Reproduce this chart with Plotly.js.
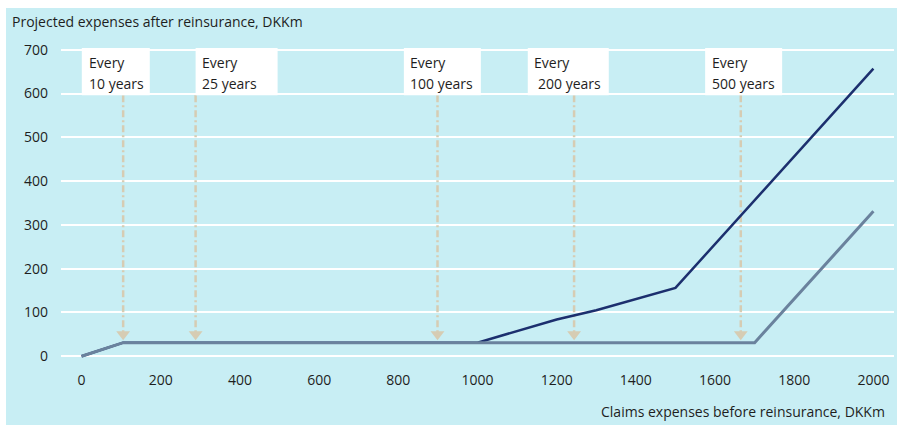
<!DOCTYPE html>
<html>
<head>
<meta charset="utf-8">
<script src="https://cdn.plot.ly/plotly-3.0.1.min.js"></script>
<style>
  html, body { margin: 0; padding: 0; background: #ffffff; }
  #chart { position: absolute; left: 6px; top: 8px; width: 891px; height: 417px; }
</style>
</head>
<body>
<div id="chart"></div>
<script>
// Claims expenses before reinsurance (DKKm) and the resulting net expenses
const claimsX      = [0, 105, 1000, 1100, 1200, 1300, 1400, 1500, 2000];
const programmeA   = [0, 31, 31, 58, 84, 105, 131, 156, 657];
const claimsXB     = [0, 105, 1700, 2000];
const programmeB   = [0, 31, 31, 331];

// Return-period events and where they fall on the claims axis
const periodFirst  = ['Every', 'Every', 'Every', 'Every', 'Every'];
const periodSecond = ['10 years', '25 years', '100 years', '200 years', '500 years'];
const eventX       = [105, 288, 899, 1244, 1665];

// Axis ticks
const xTickVals = [0, 200, 400, 600, 800, 1000, 1200, 1400, 1600, 1800, 2000];
const yTickVals = [0, 100, 200, 300, 400, 500, 600, 700];

// Label box placement (left edge on the claims axis, pixel width, text inset)
const boxLeft   = [0.5, 288, 814, 1127, 1575];
const boxWidth  = [68, 82, 77, 81, 77];
const boxPad    = [5, 4.6, 4.3, 4.7, 5];
const secondPad = [5, 4.6, 4.3, 8.7, 5];

const BG = '#c8eef4';
const NAVY = '#1c2f6e';
const GREY = '#6a829d';
const BEIGE = '#d6ccb3';
const TXT = '#1e1e1e';
const FONT = 'Open Sans, Noto Sans, sans-serif';

const ARROW_TOP = 596;
const ARROW_END = 55;
const HEAD_Y = 50;

// Dash-dot guide lines from each label box down to the retention level
const guideX = [], guideY = [];
eventX.forEach(x => { guideX.push(x, x, null); guideY.push(ARROW_TOP, ARROW_END, null); });

const traces = [
  { x: guideX, y: guideY, mode: 'lines', hoverinfo: 'skip',
    line: { color: BEIGE, width: 2.5, dash: '7px,3px,2px,3px' } },
  { x: eventX, y: eventX.map(() => HEAD_Y), mode: 'markers', hoverinfo: 'skip',
    marker: { symbol: 'triangle-down', size: 12, color: BEIGE } },
  { x: claimsX, y: programmeA, mode: 'lines',
    line: { color: NAVY, width: 2.5 } },
  { x: claimsXB, y: programmeB, mode: 'lines',
    line: { color: GREY, width: 3 } }
];

const shapes = boxLeft.map((bx, i) => ({
  type: 'rect', layer: 'above',
  xref: 'x', xsizemode: 'pixel', xanchor: bx, x0: 0, x1: boxWidth[i],
  yref: 'y', y0: 596, y1: 707.5,
  fillcolor: '#ffffff', line: { width: 0 }
}));

const annotations = [];
boxLeft.forEach((bx, i) => {
  annotations.push({ x: bx, xref: 'x', xanchor: 'left', xshift: boxPad[i],
    y: 671, yref: 'y', yanchor: 'middle', text: periodFirst[i], showarrow: false,
    font: { family: FONT, size: 14, color: TXT } });
  annotations.push({ x: bx, xref: 'x', xanchor: 'left', xshift: secondPad[i],
    y: 623, yref: 'y', yanchor: 'middle', text: periodSecond[i], showarrow: false,
    font: { family: FONT, size: 14, color: TXT } });
});
annotations.push({ x: 0, xref: 'paper', xanchor: 'left', xshift: -51,
  y: 1.085, yref: 'paper', yanchor: 'middle', showarrow: false,
  text: 'Projected expenses after reinsurance, DKKm',
  font: { family: FONT, size: 14, color: TXT } });
annotations.push({ x: 1, xref: 'paper', xanchor: 'right', xshift: -7,
  y: -0.173, yref: 'paper', yanchor: 'middle', showarrow: false,
  text: 'Claims expenses before reinsurance, DKKm',
  font: { family: FONT, size: 14, color: TXT } });

const layout = {
  width: 891, height: 417,
  margin: { l: 55, r: 3, t: 40, b: 67 },
  paper_bgcolor: BG, plot_bgcolor: BG,
  showlegend: false,
  font: { family: FONT, size: 14, color: TXT },
  xaxis: {
    range: [-52, 2052], tickvals: xTickVals, showgrid: false, zeroline: false,
    showline: false, ticks: '', ticklabelstandoff: 12,
    tickfont: { family: FONT, size: 14, color: TXT }
  },
  yaxis: {
    range: [-4, 704], tickvals: yTickVals, showgrid: true, gridcolor: '#ffffff',
    gridwidth: 2, zeroline: false, showline: false, ticks: '', ticklabelstandoff: 12,
    tickfont: { family: FONT, size: 14, color: TXT }
  },
  shapes: shapes,
  annotations: annotations
};

Plotly.newPlot('chart', traces, layout, { displayModeBar: false, staticPlot: true });
</script>
</body>
</html>
